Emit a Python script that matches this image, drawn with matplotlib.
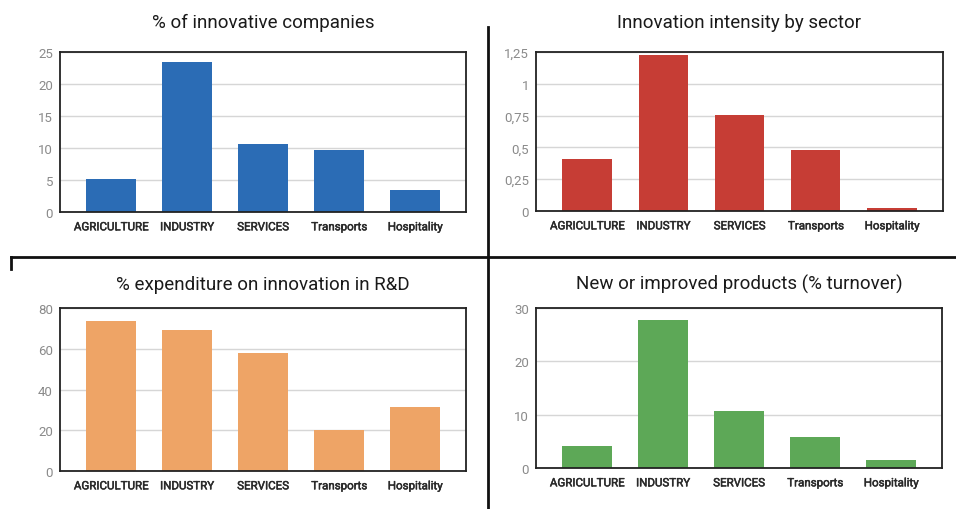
import matplotlib.pyplot as plt
import matplotlib.patheffects as pe
from matplotlib.lines import Line2D
from matplotlib.ticker import FuncFormatter

sectors = ['AGRICULTURE', 'INDUSTRY', 'SERVICES', 'Transports', 'Hospitality']

innovative_pct = [5.2, 23.4, 10.6, 9.7, 3.5]
intensity = [0.41, 1.23, 0.755, 0.48, 0.025]
rd_expenditure = [73.6, 69.2, 58.0, 20.2, 31.4]
new_products = [4.2, 27.8, 10.75, 5.9, 1.5]

titles = ['% of innovative companies', 'Innovation intensity by sector',
          '% expenditure on innovation in R&D', 'New or improved products (% turnover)']
colors = ['#2b6cb5', '#c63d35', '#eea466', '#5da857']
yticks = [[0, 5, 10, 15, 20, 25],
          [0, 0.25, 0.5, 0.75, 1, 1.25],
          [0, 20, 40, 60, 80],
          [0, 10, 20, 30]]
series = [innovative_pct, intensity, rd_expenditure, new_products]

# axes boxes in pixels: left, top, right, bottom
boxes = [(60, 53, 466, 213), (536, 53, 943, 212),
         (60, 309, 466, 472), (536, 309, 942, 469)]
title_pads = [18, 18, 14, 14]
W, H = 956, 510


def comma_fmt(v, pos):
    return ('%g' % v).replace('.', ',')


fig = plt.figure(figsize=(W / 100, H / 100), dpi=100)

for i in range(4):
    l, t, r, b = boxes[i]
    ax = fig.add_axes([l / W, 1 - b / H, (r - l) / W, (b - t) / H])
    ax.bar(range(5), series[i], width=0.65, color=colors[i], zorder=2)
    ax.set_xlim(-0.67, 4.67)
    ax.set_ylim(yticks[i][0], yticks[i][-1])
    ax.set_yticks(yticks[i])
    ax.yaxis.set_major_formatter(FuncFormatter(comma_fmt))
    ax.set_xticks(range(5))
    ax.set_xticklabels(sectors, fontsize=8.3, color='#2a2a2a', fontfamily='Roboto')
    # slightly heavier strokes, like the medium weight in the original
    for lab in ax.get_xticklabels():
        lab.set_path_effects([pe.withStroke(linewidth=0.35, foreground='#2a2a2a')])
    for lab in ax.get_yticklabels():
        lab.set_fontsize(9.5)
        lab.set_color('#8a8a8a')
        lab.set_fontfamily('Roboto')
    ax.tick_params(length=0, pad=5)
    ax.tick_params(axis='x', pad=6)
    ax.grid(axis='y', color='#d6d6d6', linewidth=1, zorder=0)
    for sp in ax.spines.values():
        sp.set_color('#222222')
        sp.set_linewidth(1.3)
    ax.set_title(titles[i], fontsize=13.5, fontfamily='Roboto', color='#1a1a1a',
                 pad=title_pads[i])

# divider lines between panels
fig.add_artist(Line2D([488 / W, 488 / W], [1 - 28 / H, 0], color='#111111', lw=2))
fig.add_artist(Line2D([11 / W, 1], [1 - 258 / H, 1 - 258 / H], color='#111111', lw=2))
fig.add_artist(Line2D([11 / W, 11 / W], [1 - 258 / H, 1 - 270 / H], color='#111111', lw=2))

fig.savefig('out.png', dpi=100)
